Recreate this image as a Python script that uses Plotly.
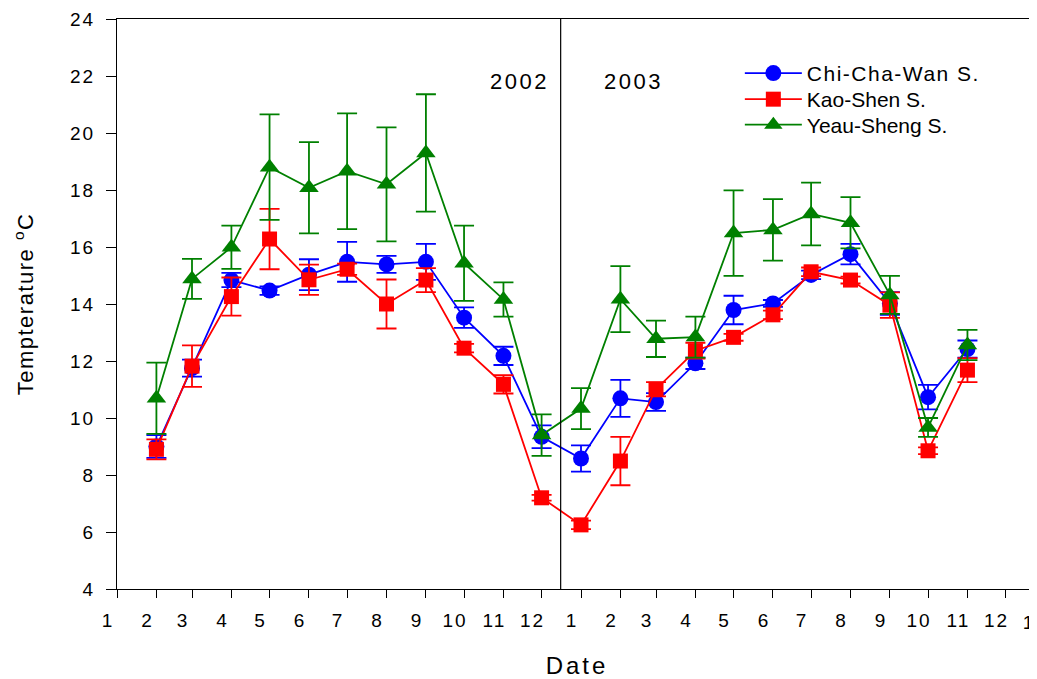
import plotly.graph_objects as go

# ---- data ----
dates = ["2002-02-01", "2002-03-01", "2002-04-01", "2002-05-01", "2002-06-01", "2002-07-01",
         "2002-08-01", "2002-09-01", "2002-10-01", "2002-11-01", "2002-12-01",
         "2003-01-01", "2003-02-01", "2003-03-01", "2003-04-01", "2003-05-01", "2003-06-01",
         "2003-07-01", "2003-08-01", "2003-09-01", "2003-10-01", "2003-11-01"]

chi = [9.0, 11.75, 14.84, 14.47, 15.03, 15.48, 15.39, 15.48, 13.52, 12.18, 9.34,
       8.58, 10.69, 10.56, 11.92, 13.79, 14.02, 15.02, 15.75, 14.02, 10.73, 12.42]
chi_err = [0.4, 0.3, 0.25, 0.15, 0.54, 0.7, 0.3, 0.63, 0.36, 0.32, 0.4,
           0.46, 0.65, 0.31, 0.2, 0.5, 0.12, 0.15, 0.36, 0.4, 0.43, 0.3]

kao = [8.9, 11.82, 14.26, 16.28, 14.85, 15.22, 14.0, 14.84, 12.45, 11.18, 7.2,
       6.25, 8.49, 11.01, 12.36, 12.83, 13.62, 15.13, 14.84, 13.96, 8.85, 11.68]
kao_err = [0.35, 0.73, 0.67, 1.06, 0.53, 0.2, 0.86, 0.42, 0.15, 0.32, 0.1,
           0.15, 0.85, 0.25, 0.28, 0.12, 0.15, 0.15, 0.12, 0.45, 0.12, 0.42]

yeau = [10.69, 14.88, 15.99, 18.80, 18.08, 18.66, 18.20, 19.30, 15.43, 14.16, 9.40,
        10.33, 14.17, 12.78, 12.84, 16.49, 16.60, 17.16, 16.85, 14.32, 9.67, 12.56]
yeau_err = [1.25, 0.70, 0.76, 1.85, 1.6, 2.03, 2.0, 2.06, 1.32, 0.6, 0.73,
            0.72, 1.16, 0.64, 0.72, 1.5, 1.08, 1.1, 0.9, 0.67, 0.33, 0.53]

tick_dates = ["2002-01-01", "2002-02-01", "2002-03-01", "2002-04-01", "2002-05-01", "2002-06-01",
              "2002-07-01", "2002-08-01", "2002-09-01", "2002-10-01", "2002-11-01", "2002-12-01",
              "2003-01-01", "2003-02-01", "2003-03-01", "2003-04-01", "2003-05-01", "2003-06-01",
              "2003-07-01", "2003-08-01", "2003-09-01", "2003-10-01", "2003-11-01", "2003-12-01"]
tick_text = ["1", "2", "3", "4", "5", "6", "7", "8", "9", "10", "11", "12",
             "1", "2", "3", "4", "5", "6", "7", "8", "9", "10", "11", "12"]
edge_tick_text = "1"   # January 2004 label at the right edge

series_names = ["Chi-Cha-Wan S.", "Kao-Shen S.", "Yeau-Sheng S."]
year_labels = ["2002", "2003"]
year_divider = "2002-12-16"

FONT = "Liberation Sans, Arial, sans-serif"

fig = go.Figure()
styles = [
    (chi, chi_err, "#0000FF", "circle", 16, "legend"),
    (kao, kao_err, "#FF0000", "square", 15, "legend2"),
    (yeau, yeau_err, "#008000", "triangle-up", 17, "legend3"),
]
for name, (vals, errs, color, sym, size, lg) in zip(series_names, styles):
    fig.add_trace(go.Scatter(
        x=dates, y=vals, name=name, mode="lines+markers", legend=lg,
        line=dict(color=color, width=1.8),
        marker=dict(symbol=sym, size=size, color=color, line=dict(width=0)),
        error_y=dict(type="data", array=errs, visible=True, color=color,
                     thickness=1.8, width=10),
    ))

fig.add_shape(type="line", xref="x", yref="paper", x0=year_divider, x1=year_divider,
              y0=0, y1=1, line=dict(color="black", width=1.2))

fig.add_annotation(text=year_labels[0], xref="paper", yref="paper", x=0.4375, y=0.891,
                   xanchor="center", yanchor="middle",
                   showarrow=False, font=dict(family=FONT, size=22, color="black"))
fig.add_annotation(text=year_labels[1], xref="paper", yref="paper", x=0.5614, y=0.891,
                   xanchor="center", yanchor="middle",
                   showarrow=False, font=dict(family=FONT, size=22, color="black"))
fig.add_annotation(text=edge_tick_text, xref="paper", yref="paper", x=0.9915, y=-0.0593,
                   xanchor="center", yanchor="middle",
                   showarrow=False, font=dict(family=FONT, size=19, color="black"))

legend_common = dict(xanchor="left", yanchor="top", x=0.677,
                     bgcolor="rgba(0,0,0,0)", font=dict(family=FONT, size=21, color="black"),
                     itemwidth=57)

fig.update_layout(
    width=1029, height=671,
    margin=dict(l=109, r=0, t=11, b=90),
    paper_bgcolor="white", plot_bgcolor="white",
    font=dict(family=FONT, color="black"),
    showlegend=True,
    legend=dict(y=0.9404, **legend_common),
    legend2=dict(y=0.8947, **legend_common),
    legend3=dict(y=0.850, **legend_common),
)
fig.update_xaxes(
    type="date", range=["2002-01-01", "2003-12-25 17:00"],
    tickmode="array", tickvals=tick_dates, ticktext=tick_text,
    ticks="outside", ticklen=8, tickwidth=1.2, tickcolor="black",
    showline=True, linecolor="black", linewidth=1.2, mirror=True,
    showgrid=False, zeroline=False,
    tickfont=dict(family=FONT, size=19, color="black"),
    ticklabelshift=-9, ticklabelstandoff=6,
    title=dict(text="Date", font=dict(family=FONT, size=24, color="black"), standoff=29),
)
fig.update_yaxes(
    range=[4, 24], dtick=2, tick0=0,
    ticks="outside", ticklen=10, tickwidth=1.2, tickcolor="black",
    showline=True, linecolor="black", linewidth=1.2, mirror=False,
    showgrid=False, zeroline=False,
    tickfont=dict(family=FONT, size=19, color="black"),
    ticklabelstandoff=7,
    title=dict(text="Tempterature <sup>o</sup>C", font=dict(family=FONT, size=22, color="black"),
               standoff=34),
)

post = """
var gd = document.getElementById('{plot_id}');
function ls(sel, v) { gd.querySelectorAll(sel).forEach(function(t){ t.style.letterSpacing = v; }); }
ls('.xtick text', '2px');
ls('.ytick text', '2px');
ls('.legendtext', '1.5px');
ls('.annotation-text', '2.5px');
ls('.xtitle', '3px');
ls('.ytitle', '1.5px');
gd.querySelectorAll('.legend [clip-path], [class^=legend] [clip-path]').forEach(function(e){ e.removeAttribute('clip-path'); });
"""
fig.write_html("out.html", post_script=post)
